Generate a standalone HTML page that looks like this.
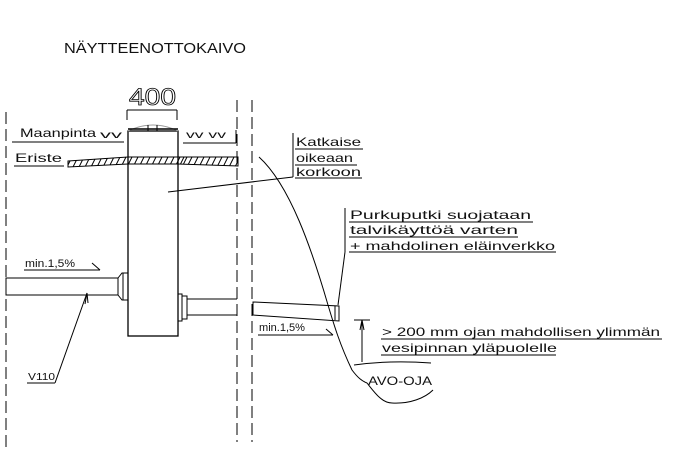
<!DOCTYPE html>
<html><head><meta charset="utf-8"><style>
html,body{margin:0;padding:0;background:#fff;}
svg{display:block;}
text{font-family:"Liberation Sans",sans-serif;fill:#111;}
</style></head><body>
<svg width="678" height="458" viewBox="0 0 678 458" xmlns="http://www.w3.org/2000/svg" stroke="#000" fill="none" stroke-width="1">
<defs><clipPath id="band"><polygon points="68,161 128,157 238,157 238,166 178,164 128,164 68,167"/></clipPath></defs>
<text x="64" y="53" font-size="15" textLength="182" lengthAdjust="spacingAndGlyphs" stroke="none">NÄYTTEENOTTOKAIVO</text>
<line x1="6" y1="112" x2="6" y2="452" stroke-dasharray="12,5"/>
<line x1="237" y1="100" x2="237" y2="442" stroke-dasharray="12,5"/>
<line x1="252" y1="100" x2="252" y2="442" stroke-dasharray="12,5"/>
<text x="129" y="105" font-size="24" textLength="47" lengthAdjust="spacingAndGlyphs" style="fill:none" stroke="#000" stroke-width="0.8">400</text>
<line x1="127" y1="110" x2="177" y2="110"/>
<line x1="127" y1="110" x2="127" y2="120"/>
<line x1="177" y1="110" x2="177" y2="120"/>
<rect x="128" y="131" width="50" height="205" stroke-width="1.3"/>
<path d="M128 131 Q153 119 178 131" stroke="#999"/>
<line x1="128" y1="129" x2="178" y2="129" stroke-width="1.5"/>
<line x1="148" y1="125" x2="148" y2="131"/><line x1="157" y1="125" x2="157" y2="131"/>
<text x="20" y="137" font-size="12" textLength="76" lengthAdjust="spacingAndGlyphs" stroke="none">Maanpinta</text>
<line x1="12" y1="142" x2="124" y2="142"/>
<text x="100" y="138" font-size="10" stroke="none" textLength="22" lengthAdjust="spacingAndGlyphs">vv</text>
<text x="186" y="138" font-size="10" stroke="none" textLength="40" lengthAdjust="spacingAndGlyphs">vv vv</text>
<line x1="183" y1="143" x2="236" y2="143"/>
<line x1="236" y1="130" x2="236" y2="143"/>
<text x="15" y="162" font-size="12" textLength="47" lengthAdjust="spacingAndGlyphs" stroke="none">Eriste</text>
<line x1="14" y1="166" x2="64" y2="166"/>
<polygon points="68,161 128,157 238,157 238,166 178,164 128,164 68,167"/>
<path clip-path="url(#band)" d="M66 169L73 155M72 169L79 155M78 169L85 155M84 169L91 155M90 169L97 155M96 169L103 155M102 169L109 155M108 169L115 155M114 169L121 155M120 169L127 155M126 169L133 155M132 169L139 155M138 169L145 155M144 169L151 155M150 169L157 155M156 169L163 155M162 169L169 155M168 169L175 155M174 169L181 155M178 169L185 155M181 169L188 155M186 169L193 155M192 169L199 155M198 169L205 155M204 169L211 155M210 169L217 155M216 169L223 155M222 169L229 155M228 169L235 155M234 169L241 155"/>
<line x1="168" y1="192" x2="293" y2="177"/>
<line x1="293" y1="133" x2="293" y2="177"/>
<text x="296" y="146" font-size="12" textLength="65" lengthAdjust="spacingAndGlyphs" stroke="none">Katkaise</text>
<line x1="295" y1="149" x2="363" y2="149"/>
<text x="296" y="162" font-size="12" textLength="57" lengthAdjust="spacingAndGlyphs" stroke="none">oikeaan</text>
<line x1="295" y1="165" x2="357" y2="165"/>
<text x="296" y="176" font-size="12" textLength="65" lengthAdjust="spacingAndGlyphs" stroke="none">korkoon</text>
<line x1="295" y1="178" x2="362" y2="178"/>
<rect x="6" y="278" width="112" height="17"/>
<path d="M118 278 L122 273 L128 273 L128 300 L122 300 L118 295" />
<line x1="123" y1="273" x2="123" y2="300"/>
<text x="25" y="267" font-size="11" textLength="50" lengthAdjust="spacingAndGlyphs" stroke="none">min.1,5%</text>
<line x1="24" y1="270" x2="100" y2="270"/>
<line x1="92" y1="263" x2="100" y2="270"/>
<text x="28" y="380" font-size="10" textLength="27" lengthAdjust="spacingAndGlyphs" stroke="none">V110</text>
<line x1="27" y1="383" x2="55" y2="383"/>
<line x1="55" y1="383" x2="87" y2="293"/>
<path d="M85 304 L87 293 L88 303"/>
<path d="M178 294 L182 294 L182 321 L178 321"/>
<rect x="182" y="296" width="5" height="23"/>
<line x1="187" y1="299" x2="237" y2="299"/>
<line x1="187" y1="315" x2="237" y2="315"/>
<polygon points="253,302 339,306 339,321 253,315"/>
<line x1="335" y1="306" x2="335" y2="320"/>
<text x="259" y="331" font-size="11" textLength="46" lengthAdjust="spacingAndGlyphs" stroke="none">min.1,5%</text>
<line x1="258" y1="335" x2="333" y2="335"/>
<line x1="326" y1="329" x2="333" y2="335"/>
<path d="M259 157 C290 185 312 250 328 305 C334 325 340 345 352 370 C358 378 362 381 367 383 C375 393 382 403 392 403 C410 404 425 398 433 390"/>
<line x1="338" y1="305" x2="345" y2="252"/>
<line x1="345" y1="208" x2="345" y2="252"/>
<text x="350" y="219" font-size="12" textLength="181" lengthAdjust="spacingAndGlyphs" stroke="none">Purkuputki suojataan</text>
<line x1="349" y1="222" x2="533" y2="222"/>
<text x="350" y="234" font-size="12" textLength="168" lengthAdjust="spacingAndGlyphs" stroke="none">talvikäyttöä varten</text>
<line x1="349" y1="237" x2="518" y2="237"/>
<text x="350" y="250" font-size="12" textLength="205" lengthAdjust="spacingAndGlyphs" stroke="none">+ mahdolinen eläinverkko</text>
<line x1="349" y1="252" x2="556" y2="252"/>
<line x1="354" y1="320" x2="370" y2="320"/>
<line x1="362" y1="320" x2="362" y2="362"/>
<path d="M360 330 L362 320 L364 330"/>
<path d="M354 365 Q390 360 431 363"/>
<text x="382" y="336" font-size="12" textLength="278" lengthAdjust="spacingAndGlyphs" stroke="none">&gt; 200 mm ojan mahdollisen ylimmän</text>
<line x1="381" y1="339" x2="662" y2="339"/>
<text x="382" y="352" font-size="12" textLength="175" lengthAdjust="spacingAndGlyphs" stroke="none">vesipinnan yläpuolelle</text>
<line x1="381" y1="355" x2="556" y2="355"/>
<text x="368" y="385" font-size="12" textLength="64" lengthAdjust="spacingAndGlyphs" stroke="none">AVO-OJA</text>
</svg>
</body></html>
